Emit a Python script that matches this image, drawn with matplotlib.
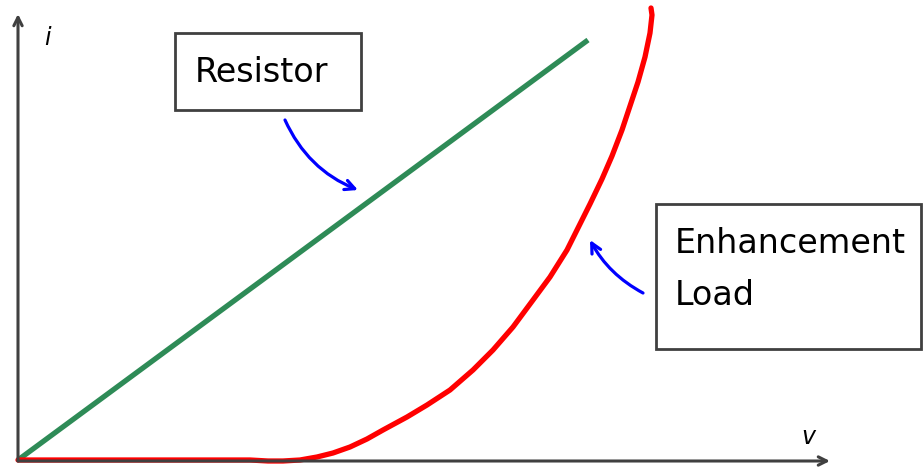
import matplotlib
matplotlib.use("Agg")
from matplotlib import pyplot as plt
from matplotlib.patches import Rectangle

# v-i characteristics (v along x, i along y)
resistor_v = [0, 570]
resistor_i = [0, 420]

enh_v = [0, 232, 250, 265, 282, 299, 315, 332, 349, 365, 389, 409, 432, 455, 475, 495, 515,
         532, 549, 564, 572, 584, 594, 604, 612, 620, 627, 632, 634, 633]
enh_i = [0, 0, -1, -1, 0, 3, 7, 13, 21, 30, 43, 55, 70, 90, 110, 133, 160,
         183, 210, 240, 256, 281, 304, 330, 354, 378, 403, 427, 445, 452]

labels = ["Resistor", "Enhancement", "Load"]

fig = plt.figure(figsize=(9.23, 4.72), dpi=100)
ax = fig.add_axes([0, 0, 1, 1])
ax.set_xlim(-18, 905)
ax.set_ylim(-12, 460)
ax.axis("off")

axis_col = "#404040"
# axes with open arrowheads
ax.annotate("", xy=(812, -1), xytext=(0, -1),
            arrowprops=dict(arrowstyle="->,head_length=0.6,head_width=0.3", lw=2.2,
                            color=axis_col, shrinkA=0, shrinkB=0))
ax.annotate("", xy=(0, 446), xytext=(0, -1),
            arrowprops=dict(arrowstyle="->,head_length=0.6,head_width=0.3", lw=2.2,
                            color=axis_col, shrinkA=0, shrinkB=0))
ax.text(29, 422, "i", style="italic", fontsize=17, ha="center", va="center")
ax.text(790, 23, "v", style="italic", fontsize=17, ha="center", va="center")

ax.plot(resistor_v, resistor_i, color="#2e8b57", lw=3.8, solid_capstyle="butt")
ax.plot(enh_v, enh_i, color="#ff0000", lw=3.8, solid_joinstyle="round",
        solid_capstyle="round")

# label boxes
ax.add_patch(Rectangle((157, 350), 186, 77, fill=False, ec=axis_col, lw=2))
ax.add_patch(Rectangle((638, 111), 265, 145, fill=False, ec=axis_col, lw=2))
ax.text(177, 378, labels[0], fontsize=24, ha="left", va="baseline")
ax.text(657, 207, labels[1], fontsize=24, ha="left", va="baseline")
ax.text(657, 155, labels[2], fontsize=24, ha="left", va="baseline")

# blue pointer arrows
ax.annotate("", xy=(340, 270), xytext=(267, 340),
            arrowprops=dict(arrowstyle="->,head_length=0.7,head_width=0.35", lw=2.3,
                            color="#0000ff", shrinkA=0, shrinkB=0,
                            connectionstyle="arc3,rad=0.2"))
ax.annotate("", xy=(572, 220), xytext=(625, 167),
            arrowprops=dict(arrowstyle="->,head_length=0.7,head_width=0.35", lw=2.3,
                            color="#0000ff", shrinkA=0, shrinkB=0,
                            connectionstyle="arc3,rad=-0.15"))

fig.savefig("out.png", dpi=100)
